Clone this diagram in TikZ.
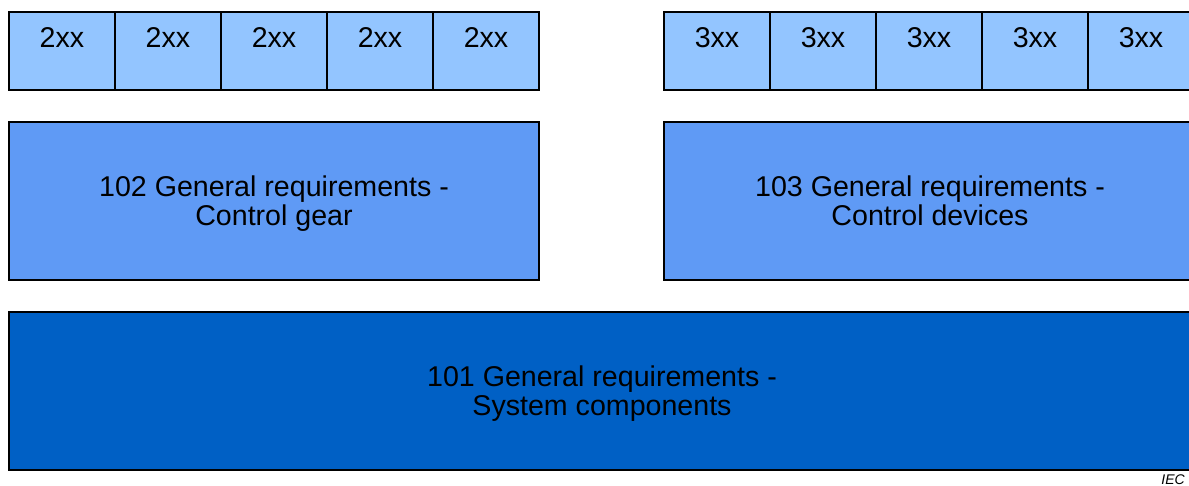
\documentclass[tikz,border=0pt]{standalone}
\usepackage{fontspec}
\setmainfont{Liberation Sans}
\usetikzlibrary{calc}
\definecolor{lightb}{RGB}{147,197,255}
\definecolor{midb}{RGB}{95,154,245}
\definecolor{darkb}{RGB}{0,96,197}
\newcommand\mytopstrut{\rule{0pt}{28.7pt}}
\begin{document}
\begin{tikzpicture}[x=1pt,y=1pt,
  box/.style={draw=black,line width=2pt,rectangle,inner sep=0pt,anchor=north west},
  cell/.style={box,fill=lightb,minimum width=106pt,minimum height=78pt},
  celltext/.style={font=\fontsize{28.6}{30}\selectfont,anchor=center},
  big/.style={box,minimum height=158pt,align=center,font=\fontsize{28.6}{29.5}\selectfont}]
\useasboundingbox (0,0) rectangle (1189,-486);
\begin{scope}
\clip (0,0) rectangle (1189,-486);
\foreach \i in {0,...,4}{
  \node[cell] (l\i) at ({8+106*\i},-11) {};
  \node[celltext] (lt\i) at ($(l\i.north)+(0,-27)$) {2xx};
}
\foreach \i in {0,...,4}{
  \node[cell] (r\i) at ({663+106*\i},-11) {};
  \node[celltext] (rt\i) at ($(r\i.north)+(0,-27)$) {3xx};
}
\node[big,fill=midb,minimum width=530pt] (g102) at (8,-121) {\mytopstrut 102 General requirements -\\Control gear\strut};
\node[big,fill=midb,minimum width=532pt] (g103) at (663,-121) {\mytopstrut 103 General requirements -\\Control devices\strut};
\node[big,fill=darkb,minimum width=1186pt] (g101) at (8,-311) {\mytopstrut 101 General requirements -\\System components\strut};
\end{scope}
\node[anchor=south east,inner sep=0pt,font=\fontsize{14}{16}\selectfont\itshape] (iec) at (1185,-485) {IEC};
\end{tikzpicture}
\end{document}
